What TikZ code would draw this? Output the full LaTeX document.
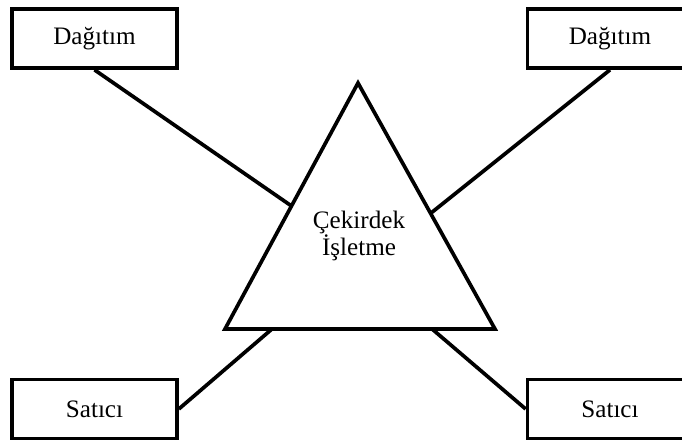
\documentclass[tikz,border=0pt]{standalone}
\usepackage{fontspec}
\setmainfont{Liberation Serif}
\usetikzlibrary{calc}
\tikzset{
  unit box/.style={rectangle, draw=black, line width=2.1pt, minimum width=3.3cm, minimum height=1.18cm, inner sep=0pt, font=\fontsize{14.3}{16}\selectfont},
  core/.style={draw=black, line width=2.1pt, line join=miter},
  core text/.style={align=center, inner sep=0pt, font=\fontsize{14.3}{15.4}\selectfont},
  link/.style={line width=2.1pt, black}
}
\begin{document}
\begin{tikzpicture}
  \useasboundingbox (0,0) rectangle (13.64,8.92);

  % Core triangle
  \coordinate (apex) at (7.16,7.26);
  \coordinate (base left) at (4.5,2.34);
  \coordinate (base right) at (9.9,2.34);
  \draw[core] (base left) -- (apex) -- (base right) -- cycle;
  \node[core text] (core) at (7.18,4.2) {Çekirdek\\İşletme};

  % Points where the links meet the triangle
  \coordinate (core left) at ($(base left)!0.5!(apex)$);
  \coordinate (core right) at ($(base right)!0.47!(apex)$);
  \coordinate (core bl) at ($(base left)!0.174!(base right)$);
  \coordinate (core br) at ($(base left)!0.767!(base right)$);

  % Outer boxes
  \node[unit box] (dist left) at (1.89,8.15) {Dağıtım};
  \node[unit box] (dist right) at (12.2,8.15) {Dağıtım};
  \node[unit box] (seller left) at (1.89,0.74) {Satıcı};
  \node[unit box] (seller right) at (12.2,0.74) {Satıcı};

  % Links
  \draw[link] (dist left.south) -- (core left);
  \draw[link] (dist right.south) -- (core right);
  \draw[link] (seller left.east) -- (core bl);
  \draw[link] (seller right.west) -- (core br);
\end{tikzpicture}
\end{document}
